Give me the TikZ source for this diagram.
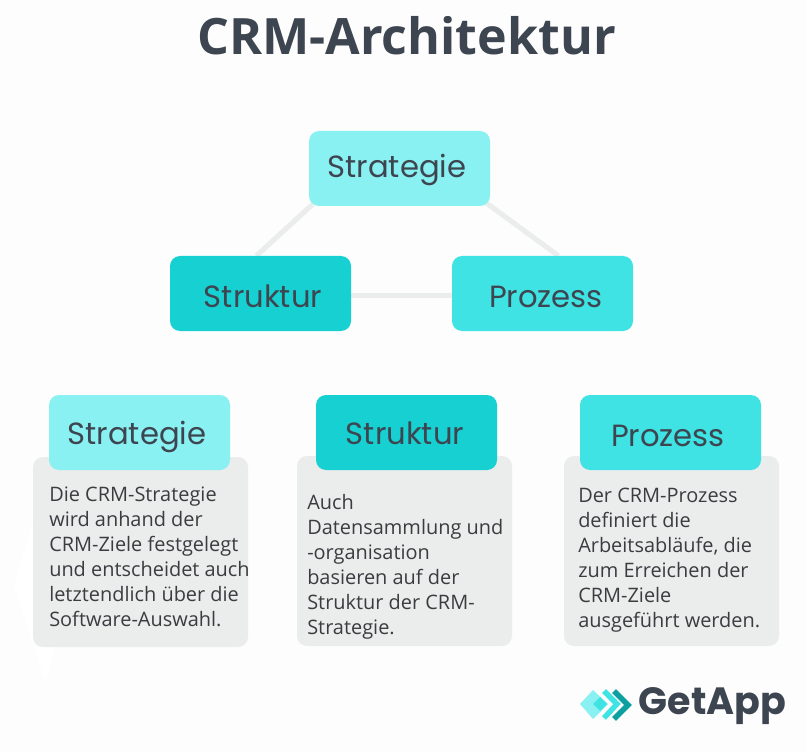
\documentclass[tikz,border=0pt]{standalone}
\usepackage{fontspec}
\setmainfont{Open Sans}
\newfontfamily\boxfont{Poppins}
\usetikzlibrary{backgrounds}
\definecolor{paper}{HTML}{FDFDFD}
\definecolor{lightcyan}{HTML}{8AF1F2}
\definecolor{midcyan}{HTML}{3FE3E3}
\definecolor{darkcyan}{HTML}{17D0D2}
\definecolor{logoteal}{HTML}{0E9FA0}
\definecolor{panelgrey}{HTML}{EBECEC}
\definecolor{titleink}{HTML}{3D4550}
\definecolor{bodyink}{HTML}{3A3D40}
\tikzset{
    headbox/.style={rounded corners=7.5pt, inner sep=0pt, minimum width=135.75pt, minimum height=56.25pt},
    panel/.style={fill=panelgrey, rounded corners=7.5pt, inner sep=0pt, minimum width=161.25pt, minimum height=142.5pt},
    boxlabel/.style={inner sep=0pt, text=titleink, font=\boxfont\fontsize{23}{27}\selectfont},
    bodytext/.style={inner sep=0pt, anchor=north west, align=left, text=bodyink, font=\fontsize{14.95}{18.75}\selectfont},
    tie/.style={draw=panelgrey, line width=3.8pt}
}
\begin{document}
\begin{tikzpicture}[x=0.75pt, y=-0.75pt]
    \useasboundingbox (0, 0) rectangle (806, 752);

    \node[text=titleink, inner sep=0pt, font=\fontsize{37.6}{46}\selectfont\bfseries] (title) at (406.5, 36) {CRM-Architektur};

    \node[headbox, fill=lightcyan] (strategie) at (399.5, 168.5) {};
    \node[headbox, fill=darkcyan] (struktur) at (260.5, 293.5) {};
    \node[headbox, fill=midcyan] (prozess) at (542.5, 293.5) {};
    \node[boxlabel] (strategietext) at (397, 170) {Strategie};
    \node[boxlabel] (strukturtext) at (263, 296) {Struktur};
    \node[boxlabel] (prozesstext) at (546, 297) {Prozess};
    \begin{scope}[on background layer]
	\fill[paper] (0, 0) rectangle (806, 752);
	\fill[white] (14, 585) -- (33, 520) -- (33, 647) -- (55, 647) -- (45, 682) -- cycle;
	\draw[tie] ([xshift=3pt, yshift=1.5pt]strategie.south west) -- ([xshift=65pt]struktur.north west);
	\draw[tie] ([xshift=-3pt, yshift=2.5pt]strategie.south east) -- ([xshift=80pt]prozess.north west);
	\draw[tie] ([yshift=-1.5pt]struktur.east) -- ([yshift=-1.5pt]prozess.west);
    \end{scope}

    \node[panel] (panelone) at (140.5, 552) {};
    \node[panel] (paneltwo) at (404.5, 551) {};
    \node[panel] (panelthree) at (671.5, 551) {};
    \node[headbox, fill=lightcyan] (headone) at (139.5, 432.5) {};
    \node[headbox, fill=darkcyan] (headtwo) at (406.5, 432.5) {};
    \node[headbox, fill=midcyan] (headthree) at (670.5, 432.5) {};
    \node[boxlabel] (headonetext) at (137, 437) {Strategie};
    \node[boxlabel] (headtwotext) at (405, 433) {Struktur};
    \node[boxlabel] (headthreetext) at (668, 436) {Prozess};

    \node[bodytext] (textone) at (49, 487) {Die CRM-Strategie\\wird anhand der\\CRM-Ziele festgelegt\\und entscheidet auch\\letztendlich über die\\Software-Auswahl.};
    \node[bodytext] (texttwo) at (307, 494) {Auch\\Datensammlung und\\-organisation\\basieren auf der\\Struktur der CRM-\\Strategie.};
    \node[bodytext] (textthree) at (578, 488) {Der CRM-Prozess\\definiert die\\Arbeitsabläufe, die\\zum Erreichen der\\CRM-Ziele\\ausgeführt werden.};

    \fill[lightcyan] (580, 704) -- (593, 690) -- (608, 704) -- (593, 719) -- cycle;
    \draw[midcyan, line width=4pt] (604, 691) -- (617, 704) -- (604, 718);
    \fill[midcyan] (600, 697) -- (607, 704) -- (600, 711) -- (593, 704) -- cycle;
    \draw[logoteal, line width=4pt] (614, 691) -- (628, 705) -- (614, 719);
    \node[text=titleink, inner sep=0pt, font=\boxfont\fontsize{28.5}{36}\selectfont\bfseries] (logotext) at (712.5, 706) {GetApp};
\end{tikzpicture}
\end{document}
